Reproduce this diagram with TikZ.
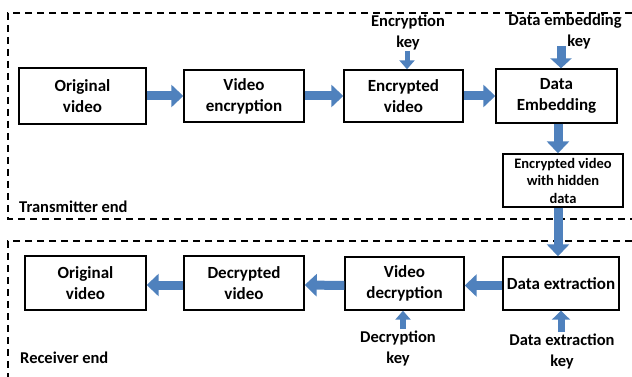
\documentclass[tikz,border=0pt]{standalone}
\usepackage{fontspec}
\setmainfont{Carlito}
\usetikzlibrary{arrows.meta}
\definecolor{arrowblue}{HTML}{4F81BD}
\tikzset{
    stagebox/.style={draw, line width=1.4pt, align=center, inner sep=1pt,
        font=\fontsize{17}{21}\selectfont\bfseries},
    keytext/.style={align=center, inner sep=1pt, font=\fontsize{16.5}{21}\selectfont\bfseries},
    endtext/.style={anchor=west, inner sep=0pt, font=\fontsize{16.5}{20}\selectfont\bfseries},
    regionline/.style={line width=1.4pt, dash pattern=on 7pt off 5pt},
    bigarrow/.style={draw=arrowblue, line width=9pt, -{Triangle[length=12pt,width=22pt]}},
    keyarrow/.style={draw=arrowblue, line width=6pt, -{Triangle[length=9pt,width=15pt]}}
}
\begin{document}
\begin{tikzpicture}[x=1pt,y=-1pt]
    \useasboundingbox (0,0) rectangle (632,377);

    \draw[regionline] (632,13) -- (8,13) -- (8,219) -- (632,219);
    \draw[regionline] (632,241) -- (8,241) -- (8,377);

    \node[stagebox, minimum width=127pt, minimum height=56pt] (origtx) at (82.5,96) {Original\\video};
    \node[stagebox, minimum width=120pt, minimum height=52pt] (videnc) at (244,96) {Video\\encryption};
    \node[stagebox, minimum width=119pt, minimum height=52pt] (encvid) at (403.5,96) {Encrypted\\video};
    \node[stagebox, minimum width=121pt, minimum height=54pt] (embed) at (556.5,96) {Data\\Embedding};
    \node[stagebox, minimum width=120pt, minimum height=53pt, font=\fontsize{14.5}{17.5}\selectfont\bfseries] (hidden) at (563,180.5) {Encrypted video\\with hidden\\data};

    \node[stagebox, minimum width=116pt, minimum height=53pt] (extract) at (561,283.5) {Data extraction};
    \node[stagebox, minimum width=119pt, minimum height=53pt] (viddec) at (404.5,283.5) {Video\\decryption};
    \node[stagebox, minimum width=120pt, minimum height=54pt] (decvid) at (244,283) {Decrypted\\video};
    \node[stagebox, minimum width=121pt, minimum height=54pt] (origrx) at (85.5,283) {Original\\video};

    \node[keytext] (enckey) at (408,32) {Encryption\\key};
    \node[keytext] (embkey) at (565,32) {Data embedding\\\hspace*{28pt}key};
    \node[keytext] (deckey) at (398,348) {Decryption\\key};
    \node[keytext] (extkey) at (562,351) {Data extraction\\key};

    \node[endtext] (txend) at (19,207) {Transmitter end};
    \node[endtext] (rxend) at (20,358) {Receiver end};

    \coordinate (embtop) at (561,46);

    \draw[bigarrow] (origtx) -- (videnc);
    \draw[bigarrow] (videnc) -- (encvid);
    \draw[bigarrow] (encvid) -- (embed);
    \draw[bigarrow] ([xshift=1.5pt]embed.south) -- ([xshift=1.5pt]embed.south |- hidden.north);
    \draw[bigarrow] ([xshift=-5pt]hidden.south) -- ([xshift=-5pt]hidden.south |- extract.north);
    \draw[bigarrow] ([yshift=-2pt]extract.west) -- ([yshift=-2pt]viddec.east);
    \draw[bigarrow] ([yshift=-2pt]viddec.west) -- ([yshift=-2pt]decvid.east);
    \draw[bigarrow] ([yshift=-2pt]decvid.west) -- ([yshift=-2pt]origrx.east);

    \draw[keyarrow, line width=5pt] ([xshift=-1pt]enckey.south) -- ([xshift=-1pt]enckey.south |- encvid.north);
    \draw[keyarrow, line width=9pt, -{Triangle[length=10pt,width=21pt]}] (embtop) -- (embtop |- embed.north);
    \draw[keyarrow] ([xshift=-1.5pt]viddec.south |- deckey.north) -- ([xshift=-1.5pt]viddec.south);
    \draw[keyarrow, line width=7pt, -{Triangle[length=9pt,width=18pt]}] (extract.south |- extkey.north) -- (extract.south);
\end{tikzpicture}
\end{document}
